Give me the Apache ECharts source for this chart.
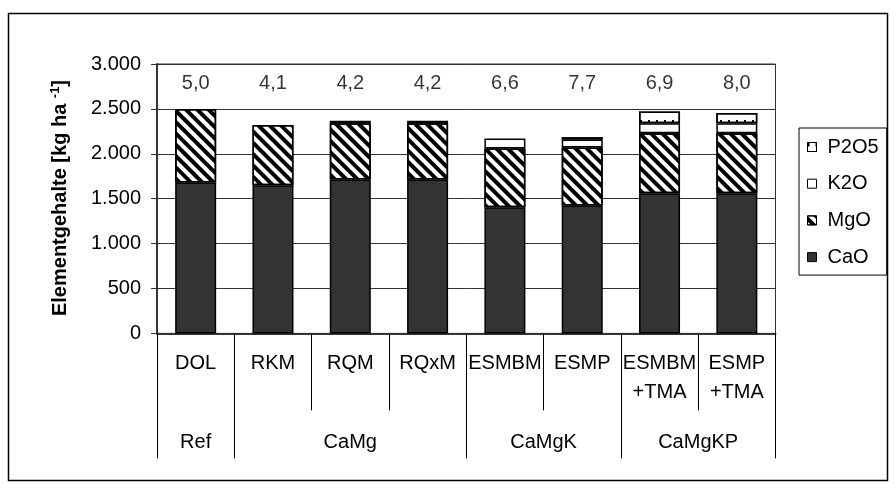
<!DOCTYPE html>
<html><head><meta charset="utf-8">
<script src="https://cdn.jsdelivr.net/npm/echarts@6/dist/echarts.min.js"></script>
<style>html,body{margin:0;padding:0;background:#fff}#c{width:896px;height:488px}</style>
</head><body><div id="c"></div>
<script>
const categories = ['DOL','RKM','RQM','RQxM','ESMBM','ESMP','ESMBM\n+TMA','ESMP\n+TMA'];
const groupNames = ['Ref','CaMg','CaMgK','CaMgKP'];
const groupCenters = [0.5, 2.5, 5, 7];
const groupBounds = [0, 1, 4, 6, 8];
const CaO  = [1680, 1650, 1715, 1715, 1405, 1425, 1560, 1560];
const MgO  = [820, 670, 625, 625, 655, 645, 670, 670];
const K2O  = [0, 0, 28, 28, 110, 90, 110, 110];
const P2O5 = [0, 0, 0, 0, 0, 25, 130, 115];
const topLabels = ['5,0','4,1','4,2','4,2','6,6','7,7','6,9','8,0'];
const topLabelLevel = 2780;
const boxedLabels = [1, 7];
const yMin = 0, yMax = 3000, yStep = 500;

const FONT = 'Liberation Sans, Arial, sans-serif';
const nz = a => a.map(v => v === 0 ? '-' : v);
function fmt(v){ return String(v).replace(/\B(?=(\d{3})+(?!\d))/g, '.'); }

const barBase = {type:'bar', stack:'tot', barWidth:41, emphasis:{disabled:true}};
const lblStyle = {fontSize:20, lineHeight:20, color:'#000', fontFamily:FONT};

const chart = echarts.init(document.getElementById('c'), null, {renderer:'canvas'});
chart.setOption({
  animation:false,
  backgroundColor:'#fff',
  textStyle:{fontFamily:FONT},
  grid:{left:157, right:120.5, top:64, bottom:154.6, show:true, borderColor:'#333', borderWidth:1, outerBoundsMode:'none'},
  legend:{
    data:['P2O5','K2O','MgO','CaO'], orient:'vertical', left:799, top:128,
    icon:'rect',
    padding:[9,8,8,8], itemWidth:9, itemHeight:9, itemGap:16.7,
    borderColor:'#000', borderWidth:1, backgroundColor:'#fff',
    textStyle:{fontSize:20, lineHeight:20, color:'#000', fontFamily:FONT, padding:[0,0,0,6]},
    itemStyle:{borderColor:'#000', borderWidth:1}, selectedMode:false
  },
  xAxis:[
    {type:'category', data:categories, position:'bottom',
     axisLine:{lineStyle:{color:'#333', width:2}},
     axisTick:{show:true, length:77, lineStyle:{color:'#000', width:1}},
     axisLabel:{interval:0, margin:16, fontSize:20, lineHeight:29, color:'#000', fontFamily:FONT},
     splitLine:{show:false}},
    {type:'value', min:0, max:8, position:'bottom', offset:0,
     axisLine:{show:false}, splitLine:{show:false},
     axisTick:{show:true, customValues:groupBounds, length:125, lineStyle:{color:'#000', width:1}},
     axisLabel:{show:true, customValues:groupCenters, margin:99, fontSize:20, lineHeight:20, color:'#000', fontFamily:FONT,
       formatter:v => { const i = groupCenters.indexOf(v); return i >= 0 ? groupNames[i] : ''; }}}
  ],
  yAxis:{type:'value', min:yMin, max:yMax, interval:yStep,
    axisLine:{show:true, lineStyle:{color:'#333', width:2}},
    axisTick:{show:true, length:6, lineStyle:{color:'#333'}},
    axisLabel:{margin:16, fontSize:20, color:'#000', fontFamily:FONT, formatter:fmt},
    splitLine:{lineStyle:{color:'#333', width:1}}},
  graphic:[
    {type:'rect', shape:{x:8.5, y:13.5, width:879, height:467}, style:{fill:'none', stroke:'#000', lineWidth:1.5}, z:-10, silent:true},
    {type:'text', x:60, y:198, rotation:Math.PI/2, silent:true,
     style:{text:'{b|Elementgehalte [kg ha }{s|-1}{b|]}', align:'center', verticalAlign:'middle',
       rich:{b:{fontSize:20, fontWeight:'bold', fontFamily:FONT, fill:'#000'},
             s:{fontSize:13, fontWeight:'bold', fontFamily:FONT, fill:'#000', padding:[0,0,10,0]}}}}
  ],
  series:[
    Object.assign({}, barBase, {name:'CaO', data:nz(CaO), itemStyle:{color:'#333333', borderColor:'#000', borderWidth:1.5}}),
    Object.assign({}, barBase, {name:'MgO', data:nz(MgO), itemStyle:{color:'#fff', borderColor:'#000', borderWidth:1.5,
      decal:{symbol:'rect', symbolSize:1, color:'#000', dashArrayX:[1,0], dashArrayY:[3.5,4], rotation:Math.PI/4}}}),
    Object.assign({}, barBase, {name:'K2O', data:nz(K2O), itemStyle:{color:'#fff', borderColor:'#000', borderWidth:1.5}}),
    Object.assign({}, barBase, {name:'P2O5', data:nz(P2O5), itemStyle:{color:'#fff', borderColor:'#000', borderWidth:1.5,
      decal:{symbol:'rect', symbolSize:1, color:'#000', dashArrayX:[1.5,5.5], dashArrayY:[4,8], rotation:0}}}),
    {type:'scatter', name:'labels', symbolSize:0, silent:true, z:10,
     data:topLabels.map((t,i) => ({value:[i, topLabelLevel],
       label:boxedLabels.includes(i) ? Object.assign({show:true, position:'inside', backgroundColor:'#fff', padding:[13,5,1,5]}, lblStyle) : {}})),
     label:Object.assign({show:true, position:'inside', formatter:p => topLabels[p.dataIndex]}, lblStyle)}
  ]
});
</script></body></html>
